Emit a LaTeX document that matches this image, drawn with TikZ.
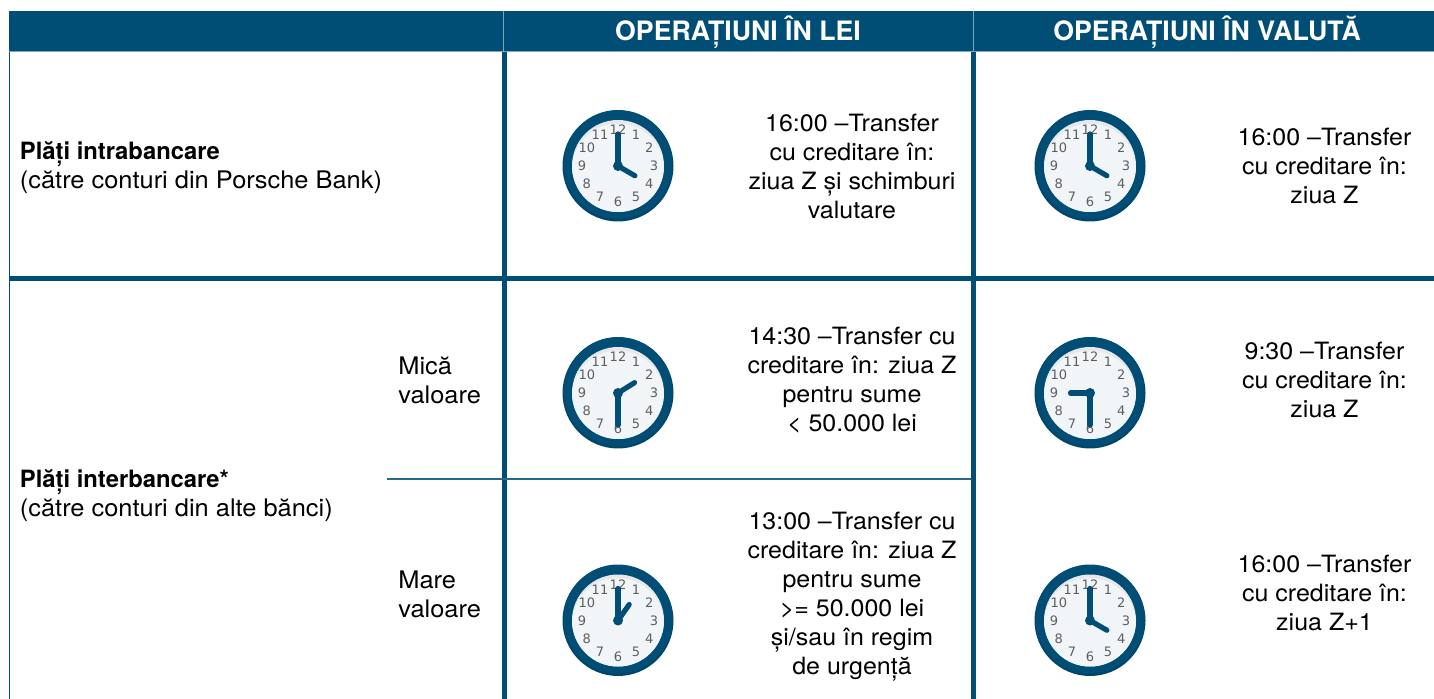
\documentclass[tikz,border=0pt]{standalone}
\usepackage{fontspec}
\setmainfont[FakeStretch=1.05,BoldFeatures={FakeStretch=1.0}]{TeX Gyre Heros}
\newfontfamily\clockfont{DejaVu Sans}
\definecolor{navy}{HTML}{004E75}
\definecolor{face}{HTML}{F1F5F7}
\definecolor{rimdark}{HTML}{00466A}
\definecolor{rimshade}{HTML}{E6E8EA}
\definecolor{digit}{HTML}{5E5E5E}
\definecolor{edge}{HTML}{7FA5BA}
\newcommand{\boldlabel}[1]{{\fontsize{11.9}{14.5}\selectfont\bfseries #1}}
\tikzset{
  body/.style={font=\fontsize{11.9}{14.5}\selectfont,align=center,text=black,inner sep=0pt},
  lbody/.style={font=\fontsize{12.1}{14.5}\selectfont,align=left,anchor=west,text=black,inner sep=0pt},
  headtext/.style={font=\fontsize{13.35}{15}\selectfont\bfseries,text=white,inner sep=0pt},
  digitnode/.style={font=\clockfont\fontsize{6.5}{7}\selectfont,text=digit,inner sep=0pt},
  hand/.style={draw=navy,line width=2.6pt,line cap=round},
  band/.style={fill=navy,draw=none},
}
\newcommand{\clockat}[3]{% position, hour angle, minute angle
  \begin{scope}[shift={#1}]
    \fill[rimdark] (0,0) circle[radius=55.5];
    \fill[navy] (0,-1.5) circle[radius=54.5];
    \fill[rimshade] (0,0) circle[radius=46];
    \begin{scope}
      \clip (0,0) circle[radius=46];
      \fill[face] (0,3.5) circle[radius=46];
    \end{scope}
    \foreach \n in {1,...,12}{
      \node[digitnode] at ({36*sin(30*\n)},{-36*cos(30*\n)}) {\n};
    }
    \draw[hand] (0,0) -- ({19.5*cos(#2)},{-19.5*sin(#2)});
    \draw[hand] (0,0) -- ({32*cos(#3)},{-32*sin(#3)});
    \fill[navy] (0,0) circle[radius=5];
  \end{scope}
}
\begin{document}
\begin{tikzpicture}[x=0.5pt,y=-0.5pt]
\path[use as bounding box] (0,0) rectangle (1434,699);
\clip (0,0) rectangle (1434,699);
% header band
\fill[band] (8.5,11) rectangle (1434,52);
\draw[edge,line width=0.5pt] (8.5,52) -- (1434,52);
\draw[edge,line width=0.5pt] (503.5,11) -- (503.5,52);
\draw[edge,line width=0.5pt] (973.5,11) -- (973.5,52);
% rules
\fill[band] (8.5,52) rectangle (10,699);
\fill[band] (502,52) rectangle (507,699);
\fill[band] (971,52) rectangle (976,699);
\fill[band] (8.5,276) rectangle (1434,281);
\draw[navy!85!white,line width=0.65pt] (387,479) -- (971,479);
% headers
\node[headtext] (hlei) at (738,32) {OPERAȚIUNI ÎN LEI};
\node[headtext] (hval) at (1207,32) {OPERAȚIUNI ÎN VALUTĂ};
% left labels
\node[lbody] (intra) at (19.5,168) {\boldlabel{Plăți intrabancare}\\(către conturi din Porsche Bank)};
\node[lbody] (inter) at (19.5,495.5) {\boldlabel{Plăți interbancare*}\\(către conturi din alte bănci)};
\node[lbody] (mica) at (398,380) {Mică\\valoare};
\node[lbody] (mare) at (398,594) {Mare\\valoare};
% cell texts
\node[body] (t1) at (852,166) {16:00 –Transfer\\cu creditare în:\\ziua Z și schimburi\\valutare};
\node[body] (t2) at (1324.5,165.5) {16:00 –Transfer\\cu creditare în:\\ziua Z};
\node[body] (t3) at (852,380) {14:30 –Transfer cu\\creditare în: ziua Z\\pentru sume\\< 50.000 lei};
\node[body] (t4) at (1324.5,379.5) {9:30 –Transfer\\cu creditare în:\\ziua Z};
\node[body] (t5) at (852,596.5) {13:00 –Transfer cu\\creditare în: ziua Z\\pentru sume\\>= 50.000 lei\\și/sau în regim\\de urgență};
\node[body] (t6) at (1324.5,593) {16:00 –Transfer\\cu creditare în:\\ziua Z+1};
% clocks
\clockat{(618,166)}{-30}{90}
\clockat{(1090,166)}{-30}{90}
\clockat{(618,393)}{32}{-90}
\clockat{(1090,393)}{180}{-90}
\clockat{(618,620.5)}{55}{90}
\clockat{(1090,620.5)}{-30}{90}
\end{tikzpicture}
\end{document}
